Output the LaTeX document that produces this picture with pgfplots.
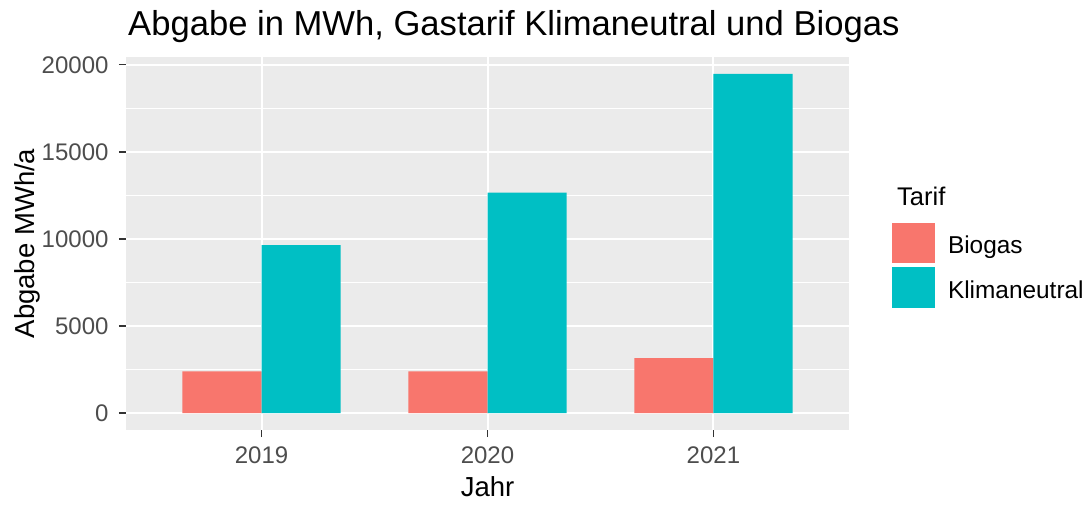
\documentclass[border=0pt]{standalone}
\usepackage{fontspec}
\setmainfont{Liberation Sans}
\usepackage{pgfplots}
\pgfplotsset{compat=1.18}
\definecolor{bioc}{HTML}{F8766D}
\definecolor{klimc}{HTML}{00BFC4}
\definecolor{panelgray}{HTML}{EBEBEB}
\definecolor{tickgray}{HTML}{4D4D4D}
\definecolor{gray20}{HTML}{333333}
\begin{document}
\begin{tikzpicture}
\path[use as bounding box] (0pt,0pt) rectangle (1092pt,506pt);
\begin{axis}[
  at={(126pt,76pt)}, anchor=south west,
  scale only axis, width=723pt, height=373pt,
  clip=false,
  xmin=-0.6, xmax=2.6, ymin=-974, ymax=20454,
  xtick={0,1,2}, xticklabels={2019,2020,2021},
  ytick={0,5000,10000,15000,20000},
  minor ytick={2500,7500,12500,17500},
  scaled y ticks=false,
  /pgf/number format/.cd, 1000 sep={}, assume math mode=true, /pgfplots/.cd,
  axis background/.style={fill=panelgray},
  axis line style={draw=none},
  tick pos=left, tick align=outside,
  major tick length=7pt, minor tick length=0pt,
  tick style={color=gray20, line width=1.2pt},
  xmajorgrids, ymajorgrids, yminorgrids,
  major grid style={white, line width=2pt},
  minor grid style={white, line width=1pt},
  ticklabel style={font=\fontsize{24}{28}\selectfont, text=tickgray},
  yticklabel style={xshift=-7pt},
  xticklabel style={yshift=-6pt},
  xlabel={Jahr}, ylabel={Abgabe MWh/a},
  every axis x label/.style={at={(axis description cs:0.5,-0.1796)}, anchor=base, font=\fontsize{27.5}{32}\selectfont},
  every axis y label/.style={at={(axis description cs:-0.1259,0.5)}, rotate=90, anchor=base, font=\fontsize{27.5}{32}\selectfont},
  legend image code/.code={\fill[#1,draw=none] (0pt,-20.3pt) rectangle (42.7pt,20.3pt);},
  legend style={draw=none, fill=none, inner sep=0pt, outer sep=0pt,
    at={(axis description cs:1.0599,0.5558)}, anchor=north west,
    row sep=4.2pt, column sep=13pt, nodes={inner sep=0pt},
    font=\fontsize{24.4}{28}\selectfont},
  legend cell align=left,
]
\addplot[ybar, bar width=0.35, bar shift=-0.175, fill=bioc, draw=none]
  coordinates {(0,2390) (1,2390) (2,3155)};
\addlegendentry{\rule{0pt}{22pt}\smash{Biogas}}
\addplot[ybar, bar width=0.35, bar shift=0.175, fill=klimc, draw=none]
  coordinates {(0,9640) (1,12660) (2,19480)};
\addlegendentry{\rule{0pt}{22pt}\smash{Klimaneutral}}
\node[anchor=base west, font=\fontsize{34.6}{40}\selectfont, inner sep=0pt] at (axis description cs:0.0028,1.0563) {Abgabe in MWh, Gastarif Klimaneutral und Biogas};
\node[anchor=base west, font=\fontsize{25.5}{30}\selectfont, inner sep=0pt] at (axis description cs:1.0664,0.6032) {Tarif};
\end{axis}
\end{tikzpicture}
\end{document}
